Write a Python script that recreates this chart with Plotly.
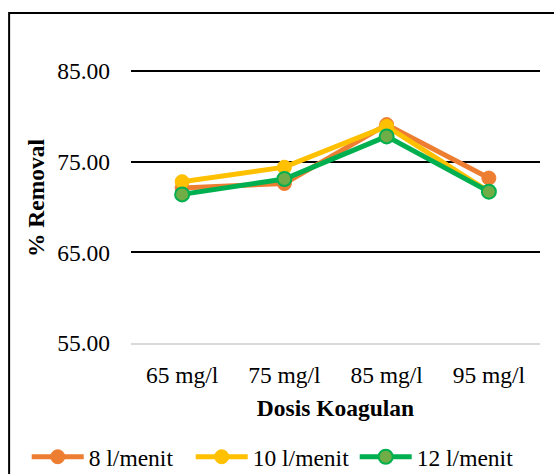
import plotly.graph_objects as go

categories = ["65 mg/l", "75 mg/l", "85 mg/l", "95 mg/l"]
s8 = [72.1, 72.6, 79.1, 73.2]
s10 = [72.8, 74.4, 78.9, 71.7]
s12 = [71.4, 73.1, 77.8, 71.7]
y_ticks = [55, 65, 75, 85]
y_tick_labels = ["55.00", "65.00", "75.00", "85.00"]

font = "Liberation Serif, Times New Roman, serif"
FS = 23.5

fig = go.Figure()
fig.add_trace(go.Scatter(x=categories, y=s8, name="8 l/menit", mode="lines+markers",
                         line=dict(color="#ED7D31", width=5),
                         marker=dict(size=14, color="#ED7D31", line=dict(color="#ED7D31", width=1))))
fig.add_trace(go.Scatter(x=categories, y=s10, name="10 l/menit", mode="lines+markers",
                         line=dict(color="#FFC000", width=5),
                         marker=dict(size=14, color="#FFC000", line=dict(color="#FFC000", width=1))))
fig.add_trace(go.Scatter(x=categories, y=s12, name="12 l/menit", mode="lines+markers",
                         line=dict(color="#00B050", width=5),
                         marker=dict(size=14, color="#70AD47", line=dict(color="#00B050", width=2))))

fig.update_layout(
    width=554, height=474,
    margin=dict(l=131, r=14, t=53, b=131, autoexpand=False),
    paper_bgcolor="white", plot_bgcolor="white",
    font=dict(family=font, size=FS, color="black"),
    showlegend=True,
    legend=dict(orientation="h", x=-0.255, xanchor="left", y=-0.393, yanchor="middle",
                font=dict(size=FS), itemwidth=52, entrywidth=97, entrywidthmode="pixels",
                traceorder="normal"),
    xaxis=dict(showgrid=False, showline=True, linecolor="#D9D9D9", linewidth=2,
               ticks="", tickfont=dict(size=FS), ticklabelstandoff=10, automargin=False,
               title=dict(text="<b>Dosis Koagulan</b>", font=dict(size=FS), standoff=12),
               range=[-0.5, 3.5]),
    yaxis=dict(range=[55, 87], tickvals=y_ticks, ticktext=y_tick_labels,
               showgrid=True, gridcolor="black", gridwidth=1.5, zeroline=False,
               showline=False, ticks="", tickfont=dict(size=FS), ticklabelstandoff=20,
               automargin=False,
               title=dict(text="<b>% Removal</b>", font=dict(size=FS), standoff=5)),
    shapes=[dict(type="rect", xref="paper", yref="paper",
                 x0=-0.298, x1=1.2, y0=-0.6, y1=1.138,
                 line=dict(color="black", width=2), fillcolor="rgba(0,0,0,0)", layer="below")],
)

fig.write_html("out.html")
